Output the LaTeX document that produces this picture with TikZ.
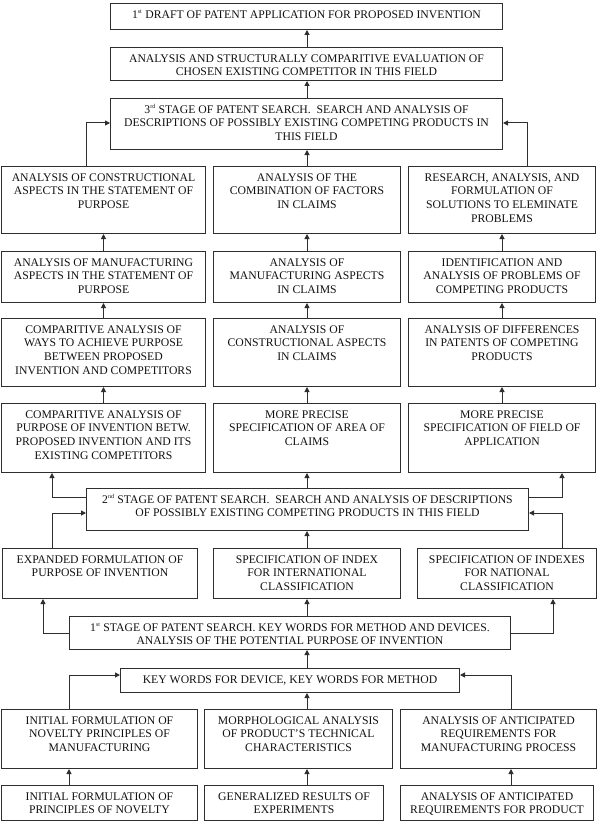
\documentclass[tikz,border=0pt]{standalone}
\usepackage{fontspec}
\setmainfont{Liberation Serif}
\usetikzlibrary{arrows.meta}
\definecolor{ln}{HTML}{2E2E2E}
\definecolor{tx}{HTML}{111111}
\newcommand\ordx[1]{\textsuperscript{\fontsize{6}{6}\selectfont #1}}
\newcommand\pbox[6]{\node[pbx] (#1) at (#2,#3) {\parbox[c][\dimexpr #5pt-#3pt\relax][t]{\dimexpr #4pt-#2pt\relax}{\centering\rule{0pt}{14.8pt}#6}};}
\tikzset{
  pbx/.style={draw=ln, line width=1pt, inner sep=0pt, anchor=north west, text=tx,
    font=\fontsize{11.7}{13.6}\selectfont},
  arr/.style={draw=ln, line width=1pt, -{Triangle[length=5pt,width=5pt]}}
}
\begin{document}
\begin{tikzpicture}[x=1pt,y=-1pt]
\useasboundingbox[fill=white] (0,0) rectangle (602,824);
% top
\pbox{b1}{110}{3}{502}{29}{1\ordx{st} DRAFT OF PATENT APPLICATION FOR PROPOSED INVENTION}
\pbox{b2}{110}{47}{502}{80}{ANALYSIS AND STRUCTURALLY COMPARITIVE EVALUATION OF\\CHOSEN EXISTING COMPETITOR IN THIS FIELD}
\pbox{b3}{110}{98}{502}{149}{3\ordx{rd} STAGE OF PATENT SEARCH.~ SEARCH AND ANALYSIS OF\\DESCRIPTIONS OF POSSIBLY EXISTING COMPETING PRODUCTS IN\\THIS FIELD}
% row A
\pbox{aL}{1}{166}{205}{233}{ANALYSIS OF CONSTRUCTIONAL\\ASPECTS IN THE STATEMENT OF\\PURPOSE}
\pbox{aM}{213}{166}{400}{233}{ANALYSIS OF THE\\COMBINATION OF FACTORS\\IN CLAIMS}
\pbox{aR}{408}{166}{595}{233}{RESEARCH, ANALYSIS, AND\\FORMULATION OF\\SOLUTIONS TO ELEMINATE\\PROBLEMS}
% row B
\pbox{bL}{1}{251}{205}{302}{ANALYSIS OF MANUFACTURING\\ASPECTS IN THE STATEMENT OF\\PURPOSE}
\pbox{bM}{213}{251}{400}{302}{ANALYSIS OF\\MANUFACTURING ASPECTS\\IN CLAIMS}
\pbox{bR}{408}{251}{595}{302}{IDENTIFICATION AND\\ANALYSIS OF PROBLEMS OF\\COMPETING PRODUCTS}
% row C
\pbox{cL}{1}{318}{205}{386}{COMPARITIVE ANALYSIS OF\\WAYS TO ACHIEVE PURPOSE\\BETWEEN PROPOSED\\INVENTION AND COMPETITORS}
\pbox{cM}{213}{318}{400}{386}{ANALYSIS OF\\CONSTRUCTIONAL ASPECTS\\IN CLAIMS}
\pbox{cR}{408}{318}{595}{386}{ANALYSIS OF DIFFERENCES\\IN PATENTS OF COMPETING\\PRODUCTS}
% row D
\pbox{dL}{1}{403}{205}{472}{COMPARITIVE ANALYSIS OF\\PURPOSE OF INVENTION BETW.\\PROPOSED INVENTION AND ITS\\EXISTING COMPETITORS}
\pbox{dM}{213}{403}{400}{472}{MORE PRECISE\\SPECIFICATION OF AREA OF\\CLAIMS}
\pbox{dR}{408}{403}{595}{472}{MORE PRECISE\\SPECIFICATION OF FIELD OF\\APPLICATION}
% 2nd stage
\pbox{s2}{86}{488}{528}{530}{2\ordx{nd} STAGE OF PATENT SEARCH.~ SEARCH AND ANALYSIS OF DESCRIPTIONS\\OF POSSIBLY EXISTING COMPETING PRODUCTS IN THIS FIELD}
% row E
\pbox{eL}{2}{548}{197}{598}{EXPANDED FORMULATION OF\\PURPOSE OF INVENTION}
\pbox{eM}{213}{548}{400}{598}{SPECIFICATION OF INDEX\\FOR INTERNATIONAL\\CLASSIFICATION}
\pbox{eR}{417}{548}{596}{598}{SPECIFICATION OF INDEXES\\FOR NATIONAL\\CLASSIFICATION}
% 1st stage
\pbox{s1}{69}{616}{510}{649}{1\ordx{st} STAGE OF PATENT SEARCH. KEY WORDS FOR METHOD AND DEVICES.\\ANALYSIS OF THE POTENTIAL PURPOSE OF INVENTION}
\pbox{kw}{120}{668}{459}{692}{KEY WORDS FOR DEVICE, KEY WORDS FOR METHOD}
% row F
\pbox{fL}{1}{709}{197}{768}{INITIAL FORMULATION OF\\NOVELTY PRINCIPLES OF\\MANUFACTURING}
\pbox{fM}{204}{709}{392}{768}{MORPHOLOGICAL ANALYSIS\\OF PRODUCT’S TECHNICAL\\CHARACTERISTICS}
\pbox{fR}{400}{709}{596}{768}{ANALYSIS OF ANTICIPATED\\REQUIREMENTS FOR\\MANUFACTURING PROCESS}
% row G
\pbox{gL}{1}{785}{197}{820}{INITIAL FORMULATION OF\\PRINCIPLES OF NOVELTY}
\pbox{gM}{204}{785}{383}{820}{GENERALIZED RESULTS OF\\EXPERIMENTS}
\pbox{gR}{400}{785}{593}{820}{ANALYSIS OF ANTICIPATED\\REQUIREMENTS FOR PRODUCT}
% lane coordinates
\coordinate (cx) at (307,0);
\coordinate (xA) at (86,0);  \coordinate (xB) at (527,0); \coordinate (yA) at (0,123);
\coordinate (x2L) at (52,0); \coordinate (x2R) at (562,0);
\coordinate (y2a) at (0,497); \coordinate (y2b) at (0,513);
\coordinate (x1L) at (43,0); \coordinate (x1R) at (553,0); \coordinate (y1) at (0,633);
\coordinate (xkL) at (69,0); \coordinate (xkR) at (511,0); \coordinate (yk) at (0,675);
% arrows top
\draw[arr] (b2.north -| cx) -- (b1.south -| cx);
\draw[arr] (b3.north -| cx) -- (b2.south -| cx);
\draw[arr] (aM.north -| cx) -- (b3.south -| cx);
\draw[arr] (aL.north -| xA) |- (b3.west |- yA);
\draw[arr] (aR.north -| xB) |- (b3.east |- yA);
% columns
\draw[arr] (bL.north) -- (aL.south);
\draw[arr] (bM.north) -- (aM.south);
\draw[arr] (bR.north) -- (aR.south);
\draw[arr] (cL.north) -- (bL.south);
\draw[arr] (cM.north) -- (bM.south);
\draw[arr] (cR.north) -- (bR.south);
\draw[arr] (dL.north) -- (cL.south);
\draw[arr] (dM.north) -- (cM.south);
\draw[arr] (dR.north) -- (cR.south);
% 2nd stage
\draw[arr] (s2.north -| dM.south) -- (dM.south);
\draw[arr] (s2.west |- y2a) -| (dL.south -| x2L);
\draw[arr] (s2.east |- y2a) -| (dR.south -| x2R);
\draw[arr] (eM.north) -- (s2.south -| eM.north);
\draw[arr] (eL.north -| x2L) |- (s2.west |- y2b);
\draw[arr] (eR.north -| x2R) |- (s2.east |- y2b);
% 1st stage
\draw[arr] (s1.north -| eM.south) -- (eM.south);
\draw[arr] (s1.west |- y1) -| (eL.south -| x1L);
\draw[arr] (s1.east |- y1) -| (eR.south -| x1R);
\draw[arr] (kw.north -| cx) -- (s1.south -| cx);
% bottom
\draw[arr] (fM.north -| cx) -- (kw.south -| cx);
\draw[arr] (fL.north -| xkL) |- (kw.west |- yk);
\draw[arr] (fR.north -| xkR) |- (kw.east |- yk);
\draw[arr] (gL.north -| xkL) -- (fL.south -| xkL);
\draw[arr] (gM.north -| cx) -- (fM.south -| cx);
\draw[arr] (gR.north -| xkR) -- (fR.south -| xkR);
\end{tikzpicture}
\end{document}
